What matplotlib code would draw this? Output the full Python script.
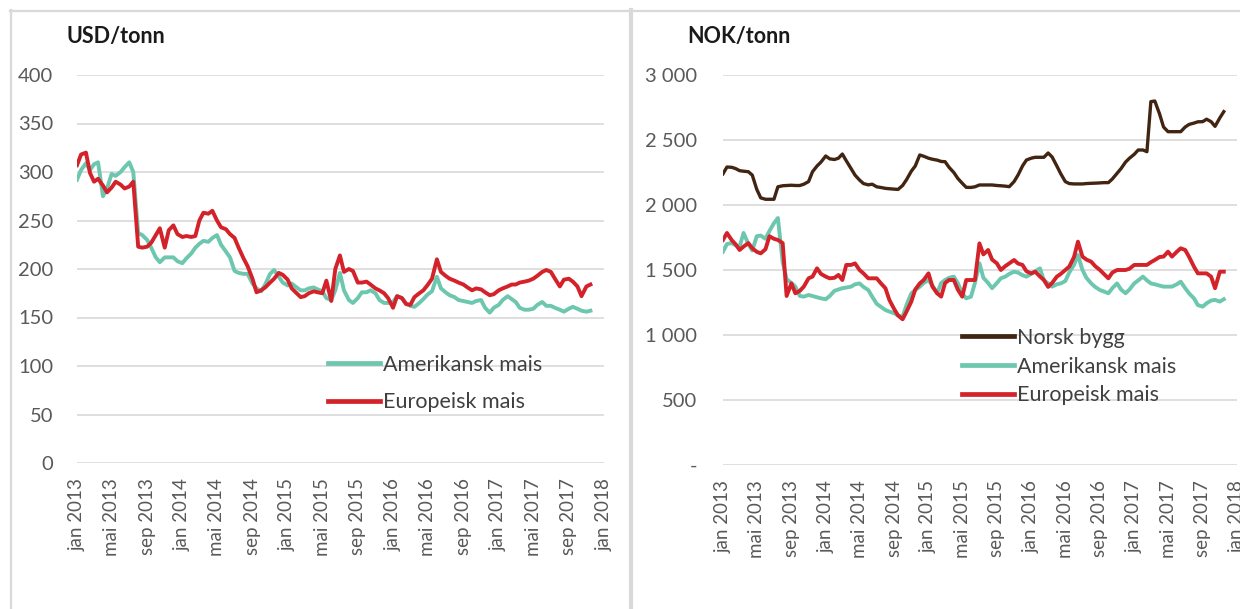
import matplotlib
matplotlib.use("Agg")
import matplotlib.pyplot as plt
import matplotlib.dates as mdates
from matplotlib.ticker import FuncFormatter, FixedLocator
from matplotlib.lines import Line2D
import pandas as pd

# ---------------- data (semi-monthly observations, Jan 2013 - Nov 2017) ----------------
dates = pd.date_range("2013-01-01", periods=118, freq="SMS")

usd_amerikansk = [292, 302, 309, 302, 308, 310, 275, 283, 298, 296, 300, 305, 310, 300,
                  237, 235, 230, 222, 212, 207, 212, 212, 212, 208, 206, 211, 216, 222,
                  226, 229, 228, 232, 235, 225, 218, 212, 198, 196, 195, 195, 185, 180,
                  177, 184, 195, 199, 192, 186, 183, 185, 181, 178, 178, 180, 181, 179,
                  177, 170, 168, 178, 196, 178, 168, 165, 170, 176, 176, 178, 175, 168,
                  165, 165, 166, 172, 170, 164, 162, 161, 165, 169, 174, 177, 192, 180,
                  176, 173, 171, 168, 167, 166, 165, 167, 168, 160, 155, 160, 163, 168,
                  172, 169, 166, 160, 158, 158, 159, 163, 166, 162, 162, 160, 158, 156,
                  159, 161, 159, 157, 156, 157]
usd_europeisk = [307, 318, 320, 299, 290, 293, 286, 279, 284, 290, 287, 283, 285, 290,
                 223, 222, 223, 227, 235, 242, 222, 240, 245, 236, 233, 234, 233, 234,
                 250, 258, 257, 260, 250, 243, 241, 236, 232, 222, 211, 203, 190, 176,
                 178, 181, 186, 190, 196, 194, 189, 180, 175, 171, 172, 175, 177, 176,
                 175, 188, 167, 200, 214, 197, 200, 198, 186, 186, 187, 184, 180, 178,
                 175, 170, 160, 172, 170, 164, 163, 171, 175, 178, 184, 190, 210, 197,
                 193, 190, 188, 186, 184, 181, 178, 180, 179, 176, 173, 174, 178, 180,
                 182, 184, 184, 186, 187, 188, 190, 193, 197, 199, 197, 190, 182, 189,
                 190, 187, 182, 172, 182, 184]

nok_norsk_bygg = [2240, 2292, 2290, 2280, 2264, 2260, 2256, 2230, 2120, 2055, 2044, 2044,
                  2044, 2140, 2148, 2150, 2152, 2150, 2150, 2160, 2180, 2256, 2300, 2330,
                  2377, 2355, 2350, 2360, 2392, 2340, 2280, 2230, 2192, 2165, 2155, 2160,
                  2140, 2135, 2128, 2125, 2122, 2120, 2150, 2195, 2260, 2300, 2385, 2375,
                  2360, 2352, 2345, 2335, 2333, 2290, 2250, 2205, 2167, 2136, 2135, 2140,
                  2154, 2154, 2154, 2154, 2150, 2148, 2145, 2141, 2180, 2230, 2300, 2346,
                  2360, 2367, 2367, 2367, 2400, 2370, 2300, 2240, 2180, 2165, 2162, 2162,
                  2162, 2165, 2167, 2168, 2170, 2172, 2172, 2200, 2244, 2280, 2330, 2360,
                  2390, 2423, 2423, 2410, 2795, 2800, 2700, 2600, 2564, 2564, 2564, 2564,
                  2600, 2620, 2630, 2640, 2641, 2660, 2641, 2605, 2670, 2718]
nok_amerikansk = [1641, 1700, 1707, 1690, 1680, 1785, 1700, 1650, 1760, 1765, 1740, 1800,
                  1860, 1900, 1560, 1430, 1400, 1372, 1300, 1295, 1308, 1300, 1290, 1282,
                  1275, 1300, 1340, 1350, 1360, 1365, 1372, 1390, 1397, 1370, 1346, 1295,
                  1240, 1218, 1192, 1180, 1167, 1150, 1141, 1231, 1320, 1346, 1372, 1400,
                  1423, 1380, 1321, 1400, 1423, 1440, 1449, 1400, 1321, 1282, 1295, 1400,
                  1551, 1440, 1400, 1360, 1400, 1436, 1449, 1470, 1487, 1480, 1460, 1449,
                  1470, 1490, 1513, 1420, 1397, 1372, 1390, 1397, 1415, 1480, 1540, 1615,
                  1500, 1440, 1397, 1370, 1346, 1335, 1321, 1360, 1397, 1350, 1321, 1350,
                  1397, 1420, 1449, 1420, 1397, 1390, 1380, 1372, 1372, 1372, 1390, 1410,
                  1360, 1320, 1282, 1230, 1218, 1244, 1265, 1270, 1257, 1275]
nok_europeisk = [1731, 1785, 1730, 1697, 1654, 1680, 1707, 1667, 1640, 1628, 1660, 1760,
                 1740, 1731, 1707, 1300, 1397, 1321, 1340, 1372, 1436, 1449, 1513, 1470,
                 1449, 1436, 1440, 1462, 1423, 1539, 1539, 1551, 1500, 1474, 1436, 1436,
                 1436, 1400, 1360, 1270, 1200, 1150, 1121, 1180, 1257, 1350, 1397, 1423,
                 1474, 1372, 1320, 1295, 1400, 1423, 1423, 1350, 1295, 1423, 1423, 1423,
                 1705, 1620, 1654, 1580, 1551, 1500, 1530, 1551, 1577, 1550, 1539, 1490,
                 1474, 1487, 1450, 1423, 1370, 1400, 1449, 1470, 1500, 1526, 1600, 1718,
                 1603, 1580, 1564, 1530, 1500, 1470, 1436, 1480, 1500, 1500, 1500, 1510,
                 1539, 1539, 1539, 1539, 1560, 1577, 1600, 1603, 1641, 1603, 1640, 1667,
                 1654, 1600, 1526, 1474, 1474, 1474, 1449, 1360, 1487, 1487]

month_labels = {1: "jan", 5: "mai", 9: "sep"}
usd_ticks = [0, 50, 100, 150, 200, 250, 300, 350, 400]
nok_ticks = [0, 500, 1000, 1500, 2000, 2500, 3000]
titles = ["USD/tonn", "NOK/tonn"]
labels_usd = ["Amerikansk mais", "Europeisk mais"]
labels_nok = ["Norsk bygg", "Amerikansk mais", "Europeisk mais"]

# ---------------- style ----------------
GREEN = "#6cc7ae"
RED = "#d3222a"
BROWN = "#412512"
GRID = "#d9d9d9"
TICK = "#595959"
FONT = "Lato"
plt.rcParams["font.family"] = [FONT, "DejaVu Sans"]

W, H = 1240, 609
fig = plt.figure(figsize=(W / 100, H / 100), dpi=100)


def fx(px):
    return px / W


def fy(py):
    return 1 - py / H


ax1 = fig.add_axes([fx(77), fy(463), fx(604) - fx(77), fy(75) - fy(463)])
ax2 = fig.add_axes([fx(723), fy(465), fx(1237) - fx(723), fy(75) - fy(465)])

ax1.plot(dates, usd_amerikansk, color=GREEN, lw=2.8, label=labels_usd[0], solid_joinstyle="round")
ax1.plot(dates, usd_europeisk, color=RED, lw=2.8, label=labels_usd[1], solid_joinstyle="round")

ax2.plot(dates, nok_norsk_bygg, color=BROWN, lw=2.4, label=labels_nok[0], solid_joinstyle="round")
ax2.plot(dates, nok_amerikansk, color=GREEN, lw=2.8, label=labels_nok[1], solid_joinstyle="round")
ax2.plot(dates, nok_europeisk, color=RED, lw=2.8, label=labels_nok[2], solid_joinstyle="round")


def month_fmt(x, pos):
    d = mdates.num2date(x)
    return f"{month_labels.get(d.month, '')} {d.year}"


def nok_fmt(v, pos):
    if v == 0:
        return "-"
    return f"{int(v):,}".replace(",", " ")


for ax, ticks, ypad in ((ax1, usd_ticks, 17), (ax2, nok_ticks, 18.5)):
    ax.set_xlim(pd.Timestamp("2013-01-01"), pd.Timestamp("2018-01-01"))
    ax.set_ylim(ticks[0], ticks[-1])
    ax.yaxis.set_major_locator(FixedLocator(ticks))
    ax.xaxis.set_major_locator(mdates.MonthLocator(bymonth=[1, 5, 9]))
    ax.xaxis.set_major_formatter(FuncFormatter(month_fmt))
    ax.grid(axis="y", color=GRID, lw=1.2)
    ax.set_axisbelow(True)
    for s in ax.spines.values():
        s.set_visible(False)
    ax.tick_params(axis="both", length=0, colors=TICK)
    ax.tick_params(axis="x", rotation=90, pad=11, labelsize=13.5)
    ax.tick_params(axis="y", pad=ypad, labelsize=14.5)
    ax.set_facecolor("none")

ax2.yaxis.set_major_formatter(FuncFormatter(nok_fmt))

fig.text(fx(67), fy(37), titles[0], fontsize=15.5, fontweight="bold", color="#1a1a1a", va="center", ha="left")
fig.text(fx(687), fy(37), titles[1], fontsize=15.5, fontweight="bold", color="#1a1a1a", va="center", ha="left")

LEG_FS = 15.5
leg1 = ax1.legend(loc="upper left", bbox_to_anchor=(fx(328), fy(355)), bbox_transform=fig.transFigure,
                  frameon=False, fontsize=LEG_FS, handlelength=2.4, handletextpad=0.15,
                  labelspacing=0.8, borderpad=0, borderaxespad=0)
leg2 = ax2.legend(loc="upper left", bbox_to_anchor=(fx(962), fy(328)), bbox_transform=fig.transFigure,
                  frameon=False, fontsize=LEG_FS, handlelength=2.4, handletextpad=0.15,
                  labelspacing=0.4, borderpad=0, borderaxespad=0)
for lg in (leg1, leg2):
    for t in lg.get_texts():
        t.set_color("#404040")
    for h in lg.get_lines():
        h.set_linewidth(3.4)

# chart frames
BORDER = "#d9d9d9"
fig.add_artist(Line2D([fx(10), fx(1240)], [fy(10.5), fy(10.5)], color=BORDER, lw=1.6))
fig.add_artist(Line2D([fx(10.5), fx(10.5)], [fy(10), fy(609)], color=BORDER, lw=1.6))
fig.add_artist(Line2D([fx(630.5), fx(630.5)], [fy(10), fy(609)], color=BORDER, lw=3.0))

fig.savefig("out.png", dpi=100)
